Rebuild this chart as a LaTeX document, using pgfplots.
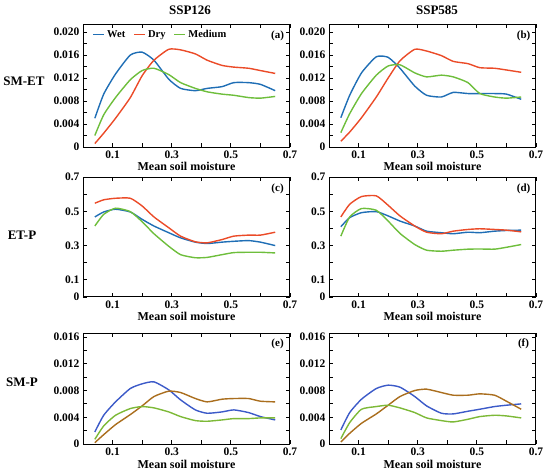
\documentclass[border=0pt]{standalone}
\usepackage{fontspec}
\setmainfont{Liberation Serif}
\usepackage{pgfplots}
\pgfplotsset{compat=1.18}
\usepackage{pgfplotstable}

\definecolor{cwet}{RGB}{31,110,181}
\definecolor{cdry}{RGB}{235,75,40}
\definecolor{cmed}{RGB}{110,190,60}
\definecolor{pblue}{RGB}{60,90,200}
\definecolor{pbrown}{RGB}{170,110,30}
\definecolor{pgreen}{RGB}{125,185,55}

% SM-ET, SSP126
\pgfplotstableread{
x    wet    dry    med
0.04 0.0050 0.0006 0.0020
0.07 0.0092 0.0024 0.0056
0.11 0.0127 0.0050 0.0086
0.16 0.0160 0.0086 0.0117
0.20 0.0165 0.0124 0.0133
0.24 0.0151 0.0151 0.0137
0.29 0.0118 0.0170 0.0126
0.33 0.0102 0.0169 0.0112
0.38 0.0098 0.0162 0.0102
0.42 0.0102 0.0151 0.0096
0.47 0.0105 0.0142 0.0092
0.51 0.0112 0.0139 0.0090
0.56 0.0112 0.0137 0.0086
0.60 0.0109 0.0133 0.0085
0.65 0.0098 0.0128 0.0088
}\tabA
% SM-ET, SSP585
\pgfplotstableread{
x    wet    dry    med
0.04 0.0051 0.0010 0.0025
0.07 0.0090 0.0026 0.0058
0.11 0.0129 0.0051 0.0093
0.16 0.0157 0.0087 0.0125
0.20 0.0156 0.0120 0.0141
0.24 0.0137 0.0150 0.0143
0.29 0.0106 0.0170 0.0129
0.33 0.0090 0.0167 0.0122
0.38 0.0087 0.0159 0.0125
0.42 0.0095 0.0149 0.0122
0.47 0.0093 0.0145 0.0112
0.51 0.0093 0.0138 0.0093
0.56 0.0093 0.0137 0.0087
0.60 0.0092 0.0134 0.0085
0.65 0.0083 0.0130 0.0087
}\tabB
% ET-P, SSP126
\pgfplotstableread{
x    wet   dry   med
0.04 0.467 0.547 0.414
0.07 0.496 0.567 0.482
0.11 0.512 0.576 0.518
0.16 0.496 0.576 0.498
0.20 0.453 0.531 0.439
0.24 0.414 0.467 0.369
0.29 0.375 0.404 0.296
0.33 0.345 0.355 0.247
0.38 0.320 0.322 0.229
0.42 0.312 0.316 0.231
0.47 0.320 0.335 0.247
0.51 0.325 0.355 0.259
0.56 0.329 0.361 0.261
0.60 0.320 0.361 0.261
0.65 0.300 0.378 0.257
}\tabC
% ET-P, SSP585
\pgfplotstableread{
x    wet   dry   med
0.04 0.410 0.467 0.355
0.07 0.463 0.541 0.467
0.11 0.492 0.586 0.516
0.16 0.498 0.590 0.506
0.20 0.473 0.535 0.443
0.24 0.443 0.473 0.371
0.29 0.414 0.414 0.306
0.33 0.384 0.378 0.273
0.38 0.375 0.369 0.267
0.42 0.369 0.384 0.273
0.47 0.378 0.394 0.279
0.51 0.375 0.398 0.280
0.56 0.384 0.394 0.279
0.60 0.388 0.390 0.290
0.65 0.390 0.380 0.306
}\tabD
% SM-P, SSP126
\pgfplotstableread{
x    blue   brown  green
0.04 0.0018 0.0002 0.0007
0.07 0.0043 0.0014 0.0027
0.11 0.0063 0.0029 0.0043
0.16 0.0083 0.0044 0.0053
0.20 0.0090 0.0057 0.0056
0.24 0.0093 0.0071 0.0054
0.29 0.0081 0.0079 0.0048
0.33 0.0066 0.0077 0.0041
0.38 0.0051 0.0068 0.0035
0.42 0.0046 0.0063 0.0034
0.47 0.0048 0.0067 0.0036
0.51 0.0051 0.0068 0.0038
0.56 0.0047 0.0068 0.0038
0.60 0.0041 0.0064 0.0039
0.65 0.0036 0.0063 0.0039
}\tabE
% SM-P, SSP585
\pgfplotstableread{
x    blue   brown  green
0.04 0.0021 0.0003 0.0008
0.07 0.0047 0.0016 0.0032
0.11 0.0067 0.0031 0.0052
0.16 0.0083 0.0045 0.0056
0.20 0.0088 0.0058 0.0058
0.24 0.0085 0.0071 0.0054
0.29 0.0071 0.0080 0.0047
0.33 0.0057 0.0082 0.0039
0.38 0.0046 0.0077 0.0035
0.42 0.0045 0.0073 0.0033
0.47 0.0049 0.0073 0.0037
0.51 0.0052 0.0075 0.0041
0.56 0.0056 0.0073 0.0043
0.60 0.0058 0.0064 0.0042
0.65 0.0060 0.0052 0.0039
}\tabF

\tikzset{plab/.style={font=\fontsize{11}{12}\selectfont\bfseries}}

\pgfplotsset{
  panel/.style={
    scale only axis, width=207pt, anchor=north west,
    xmin=0, xmax=0.7,
    xtick={0,0.1,0.2,0.3,0.4,0.5,0.6,0.7},
    xticklabels={,0.1,,0.3,,0.5,,0.7},
    scaled y ticks=false, scaled x ticks=false,
    tick pos=both, tick align=inside,
    major tick length=4pt,
    axis line style={line width=1pt},
    tick style={line width=0.8pt, black},
    tick label style={font=\fontsize{11.5}{12}\selectfont\bfseries},
    xlabel={Mean soil moisture},
    xlabel style={font=\fontsize{12}{13}\selectfont\bfseries, inner sep=0pt},
    every axis plot/.append style={line width=1.4pt, smooth, tension=0.35, no markers},
  },
  rowone/.style={panel, height=123pt, ymin=0, ymax=0.0214,
    ytick={0,0.002,0.004,0.006,0.008,0.010,0.012,0.014,0.016,0.018,0.020},
    yticklabels={0,,0.004,,0.008,,0.012,,0.016,,0.020}},
  rowtwo/.style={panel, height=120pt, ymin=0, ymax=0.7,
    ytick={0,0.1,0.2,0.3,0.4,0.5,0.6,0.7},
    yticklabels={0,0.1,,0.3,,0.5,,0.7}},
  rowthree/.style={panel, height=111pt, ymin=0, ymax=0.0166,
    ytick={0,0.002,0.004,0.006,0.008,0.010,0.012,0.014,0.016},
    yticklabels={0,,0.004,,0.008,,0.012,,0.016},
    xlabel style={yshift=-1pt}},
}

\begin{document}
\begin{tikzpicture}
\path[use as bounding box] (0,0) rectangle (550pt,-472pt);

\node[font=\fontsize{13}{14}\selectfont\bfseries] at (190pt,-10pt) {SSP126};
\node[font=\fontsize{13}{14}\selectfont\bfseries] at (437pt,-10pt) {SSP585};
\node[font=\fontsize{13}{14}\selectfont\bfseries] at (24pt,-81pt) {SM-ET};
\node[font=\fontsize{13}{14}\selectfont\bfseries] at (22pt,-235pt) {ET-P};
\node[font=\fontsize{13}{14}\selectfont\bfseries] at (22pt,-382pt) {SM-P};

% (a)
\begin{axis}[rowone, at={(83pt,-24pt)},
  legend columns=3,
  legend style={draw=none, fill=none, at={(0.03,0.985)}, anchor=north west,
    font=\fontsize{10.5}{11}\selectfont\bfseries,
    /tikz/every even column/.append style={column sep=6pt}},
  legend image code/.code={\draw[#1, line width=1.8pt] (0pt,0pt) -- (11pt,0pt);}]
\addplot[cwet] table[x=x, y=wet] {\tabA};
\addplot[cdry] table[x=x, y=dry] {\tabA};
\addplot[cmed] table[x=x, y=med] {\tabA};
\legend{Wet, Dry, Medium}
\node[plab] at (rel axis cs:0.94,0.9) {(a)};
\end{axis}

% (b)
\begin{axis}[rowone, at={(329pt,-24pt)}]
\addplot[cwet] table[x=x, y=wet] {\tabB};
\addplot[cdry] table[x=x, y=dry] {\tabB};
\addplot[cmed] table[x=x, y=med] {\tabB};
\node[plab] at (rel axis cs:0.94,0.9) {(b)};
\end{axis}

% (c)
\begin{axis}[rowtwo, at={(83pt,-177pt)}]
\addplot[cwet] table[x=x, y=wet] {\tabC};
\addplot[cdry] table[x=x, y=dry] {\tabC};
\addplot[cmed] table[x=x, y=med] {\tabC};
\node[plab] at (rel axis cs:0.94,0.9) {(c)};
\end{axis}

% (d)
\begin{axis}[rowtwo, at={(329pt,-177pt)}]
\addplot[cwet] table[x=x, y=wet] {\tabD};
\addplot[cdry] table[x=x, y=dry] {\tabD};
\addplot[cmed] table[x=x, y=med] {\tabD};
\node[plab] at (rel axis cs:0.94,0.9) {(d)};
\end{axis}

% (e)
\begin{axis}[rowthree, at={(83pt,-333pt)}]
\addplot[pblue] table[x=x, y=blue] {\tabE};
\addplot[pbrown] table[x=x, y=brown] {\tabE};
\addplot[pgreen] table[x=x, y=green] {\tabE};
\node[plab] at (rel axis cs:0.94,0.9) {(e)};
\end{axis}

% (f)
\begin{axis}[rowthree, at={(329pt,-333pt)}]
\addplot[pblue] table[x=x, y=blue] {\tabF};
\addplot[pbrown] table[x=x, y=brown] {\tabF};
\addplot[pgreen] table[x=x, y=green] {\tabF};
\node[plab] at (rel axis cs:0.94,0.9) {(f)};
\end{axis}
\end{tikzpicture}
\end{document}
